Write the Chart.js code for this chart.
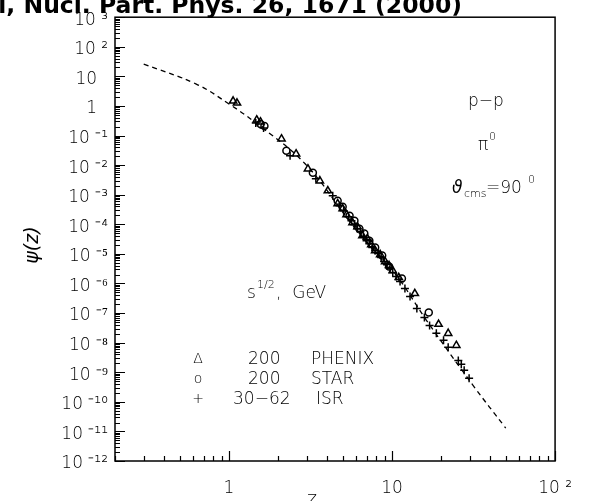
<!DOCTYPE html>
<html>
<head>
<meta charset="utf-8">
<script src="https://cdn.jsdelivr.net/npm/chart.js@4.4.0/dist/chart.umd.min.js"></script>
<style>
html, body { margin: 0; padding: 0; background: #fff; }
</style>
</head>
<body>
<canvas id="chart" width="589" height="501"></canvas>
<script>
// dashed fit curve, psi(z)
const curveZ = [0.30, 0.63, 1.0, 1.46, 2.93, 5.89, 10.4, 16.3, 31.4, 49.8]
const curvePsi = [26, 5.5, 1.17, 0.267, 0.0111, 7.8e-5, 2.2e-6, 5.6e-8, 3.6e-10, 1.3e-11]

// PHENIX 200 GeV
const phenixZ = [1.06, 1.12, 1.48, 1.56, 2.10, 2.58, 3.05, 3.61, 4.04, 4.64, 4.98, 5.26, 5.72, 6.14, 6.58, 7.06, 7.46, 7.88, 8.46, 9.07, 9.59, 10.1, 11.0, 13.8, 19.3, 22.1, 24.8]
const phenixPsi = [1.47, 1.26, 0.337, 0.289, 0.0773, 0.0241, 0.0075, 0.00296, 0.00136, 4.98e-4, 3.4e-4, 2.12e-4, 1.14e-4, 8.3e-5, 4.15e-5, 3.3e-5, 2.07e-5, 1.29e-5, 9.5e-6, 5.5e-6, 4.05e-6, 2.74e-6, 1.59e-6, 4.6e-7, 4.2e-8, 2.07e-8, 8.1e-9]

// STAR 200 GeV
const starZ = [1.56, 1.65, 2.25, 3.27, 4.64, 4.98, 5.49, 5.88, 6.31, 6.76, 7.26, 7.88, 8.70, 9.59, 11.5, 16.8]
const starPsi = [0.247, 0.212, 0.0304, 0.00552, 6.3e-4, 3.94e-4, 1.96e-4, 1.33e-4, 7.1e-5, 4.85e-5, 2.8e-5, 1.63e-5, 8.8e-6, 3.74e-6, 1.48e-6, 1.05e-7]

// ISR 30-62 GeV
const isrZ = [1.46, 1.63, 2.37, 3.41, 4.33, 4.77, 5.05, 5.41, 5.64, 5.88, 6.14, 6.40, 6.67, 6.96, 7.26, 7.57, 7.88, 8.23, 8.58, 8.94, 9.33, 9.72, 10.1, 10.6, 11.2, 12.0, 12.9, 14.2, 15.8, 17.0, 18.7, 20.7, 22.1, 25.5, 26.6, 27.7, 29.7]
const isrPsi = [0.267, 0.181, 0.0206, 0.00346, 9.2e-4, 4.26e-4, 2.9e-4, 1.81e-4, 1.33e-4, 9.75e-5, 7.1e-5, 5.66e-5, 3.8e-5, 3.04e-5, 2.2e-5, 1.63e-5, 1.3e-5, 1.03e-5, 7.5e-6, 5.5e-6, 4.4e-6, 3.2e-6, 2.35e-6, 1.72e-6, 1.17e-6, 6.8e-7, 3.6e-7, 1.44e-7, 7.1e-8, 3.8e-8, 2.07e-8, 1.2e-8, 7.0e-9, 2.5e-9, 1.86e-9, 1.17e-9, 6.3e-10]

// axis ticks
const xMajor = [1, 10, 100]
const xTickLabels = ['1', '10', '10 ²']
const yExponents = [3, 2, 1, 0, -1, -2, -3, -4, -5, -6, -7, -8, -9, -10, -11, -12]
const yTickLabels = ['10 ³', '10 ²', '10\u2007', '1\u2007', '10 ⁻¹', '10 ⁻²', '10 ⁻³', '10 ⁻⁴', '10 ⁻⁵', '10 ⁻⁶', '10 ⁻⁷', '10 ⁻⁸', '10 ⁻⁹', '10 ⁻¹⁰', '10 ⁻¹¹', '10 ⁻¹²']

function pts(xs, ys) {
    return xs.map((x, i) => ({ x: x, y: ys[i] }))
}

function minorList(lo, hi) {
    let out = []
    for (let e = lo; e < hi; e++) {
        for (let m = 1; m < 10; m++) out.push(m * Math.pow(10, e))
    }
    out.push(Math.pow(10, hi))
    return out
}

const FONT = 'DejaVu Sans'
const LIGHT = '200 '

function isPow10(v) {
    const l = Math.log10(v)
    return Math.abs(l - Math.round(l)) < 1e-9
}

const decor = {
    id: 'decor',
    afterDraw(chart) {
        const c = chart.ctx
        const a = chart.chartArea
        const xs = chart.scales.x
        const ys = chart.scales.y
        c.save()
        c.strokeStyle = '#000'
        c.fillStyle = '#000'

        // frame
        c.lineWidth = 1.5
        c.strokeRect(a.left, a.top, a.right - a.left, a.bottom - a.top)

        // inward tick marks
        c.lineWidth = 1.2
        c.beginPath()
        ys.ticks.forEach(t => {
            const py = Math.round(ys.getPixelForValue(t.value)) + 0.5
            const len = isPow10(t.value) ? 10 : 5
            c.moveTo(a.left, py)
            c.lineTo(a.left + len, py)
        })
        xs.ticks.forEach(t => {
            const px = Math.round(xs.getPixelForValue(t.value)) + 0.5
            const len = isPow10(t.value) ? 10 : 5
            c.moveTo(px, a.bottom)
            c.lineTo(px, a.bottom - len)
        })
        c.stroke()

        // clipped title
        c.font = 'bold 23.5px "' + FONT + '"'
        c.textAlign = 'right'
        c.textBaseline = 'alphabetic'
        c.fillText('l, Nucl. Part. Phys. 26, 1671 (2000)', 462, 13)

        // axis titles
        c.textAlign = 'center'
        c.font = LIGHT + '19px "' + FONT + '"'
        c.fillText('z', 312, 505)
        c.save()
        c.translate(38, 245)
        c.rotate(-Math.PI / 2)
        c.font = 'italic ' + LIGHT + '19px "' + FONT + '"'
        c.fillText('ψ(z)', 0, 0)
        c.restore()

        // annotations
        c.font = LIGHT + '17px "' + FONT + '"'
        c.textAlign = 'left'
        c.fillText('p−p', 468, 106)
        c.fillText('π', 478, 150)
        c.font = LIGHT + '11px "' + FONT + '"'
        c.fillText('0', 489, 140)

        c.font = 'italic ' + LIGHT + '17px "' + FONT + '"'
        c.fillText('ϑ', 452, 193)
        c.font = LIGHT + '11px "' + FONT + '"'
        c.fillText('cms', 464, 197)
        c.font = LIGHT + '17px "' + FONT + '"'
        c.fillText('=90', 486, 193)
        c.font = LIGHT + '11px "' + FONT + '"'
        c.fillText('0', 528, 183)

        // legend block
        c.font = LIGHT + '17px "' + FONT + '"'
        c.fillText('s', 247, 298)
        c.font = LIGHT + '11px "' + FONT + '"'
        c.fillText('1/2', 257, 288)
        c.font = LIGHT + '17px "' + FONT + '"'
        c.fillText(',  GeV', 276, 298)

        const rows = [['Δ', '200', 'PHENIX', 248, 311], ['o', '200', 'STAR', 248, 311], ['+', '30−62', 'ISR', 233, 316]]
        rows.forEach((r, i) => {
            const yb = 364 + i * 20
            c.font = LIGHT + '14px "' + FONT + '"'
            c.textAlign = 'center'
            c.fillText(r[0], 198, yb - 1)
            c.font = LIGHT + '17px "' + FONT + '"'
            c.textAlign = 'left'
            c.fillText(r[1], r[3], yb)
            c.fillText(r[2], r[4], yb)
        })
        c.restore()
    }
}

const tickFont = { family: FONT, size: 17, weight: '200' }

new Chart(document.getElementById('chart'), {
    type: 'scatter',
    data: {
        datasets: [{
            type: 'line',
            data: pts(curveZ, curvePsi),
            borderColor: '#000',
            borderWidth: 1.3,
            borderDash: [5, 4],
            pointRadius: 0,
            tension: 0.4,
            fill: false
        }, {
            data: pts(phenixZ, phenixPsi),
            pointStyle: 'triangle',
            pointRadius: 4.2,
            borderColor: '#000',
            backgroundColor: 'rgba(0,0,0,0)',
            borderWidth: 1.5
        }, {
            data: pts(starZ, starPsi),
            pointStyle: 'circle',
            pointRadius: 3.5,
            borderColor: '#000',
            backgroundColor: 'rgba(0,0,0,0)',
            borderWidth: 1.5
        }, {
            data: pts(isrZ, isrPsi),
            pointStyle: 'cross',
            pointRadius: 4,
            borderColor: '#000',
            borderWidth: 1.5
        }]
    },
    options: {
        responsive: false,
        animation: false,
        devicePixelRatio: 1,
        layout: { padding: { top: 16, right: 28, left: 0, bottom: 0 } },
        plugins: { legend: { display: false }, tooltip: { enabled: false } },
        scales: {
            x: {
                type: 'logarithmic',
                min: 0.2,
                max: 100,
                grid: { display: false, drawTicks: false },
                border: { display: false },
                afterBuildTicks: s => { s.ticks = minorList(-1, 2).filter(v => v >= 0.2 - 1e-9).map(v => ({ value: v })) },
                afterFit: s => { s.height = 40 },
                ticks: {
                    autoSkip: false,
                    maxRotation: 0,
                    padding: 17,
                    color: '#000',
                    font: tickFont,
                    callback: v => {
                        const i = xMajor.findIndex(m => Math.abs(m - v) < 1e-9 * m)
                        return i >= 0 ? xTickLabels[i] : ''
                    }
                }
            },
            y: {
                type: 'logarithmic',
                min: 1e-12,
                max: 1e3,
                grid: { display: false, drawTicks: false },
                border: { display: false },
                afterBuildTicks: s => { s.ticks = minorList(-12, 3).map(v => ({ value: v })) },
                afterFit: s => { s.width = 115 },
                ticks: {
                    autoSkip: false,
                    padding: 7,
                    labelOffset: 3,
                    color: '#000',
                    font: tickFont,
                    callback: v => {
                        if (!isPow10(v)) return ''
                        const i = yExponents.indexOf(Math.round(Math.log10(v)))
                        return i >= 0 ? yTickLabels[i] : ''
                    }
                }
            }
        }
    },
    plugins: [decor]
})
</script>
</body>
</html>
